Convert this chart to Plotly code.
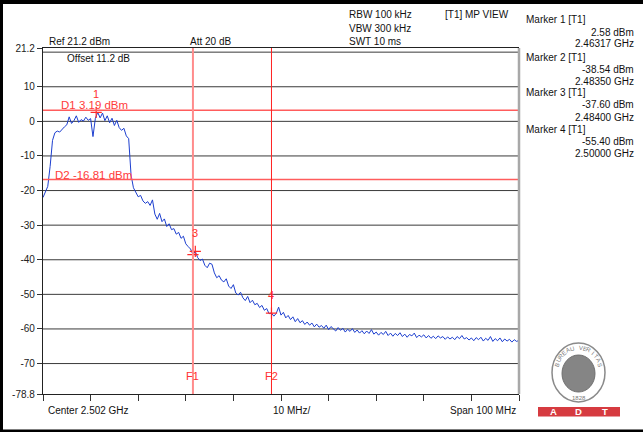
import math
import numpy as np
import plotly.graph_objects as go

# ---------------- data ----------------
center_ghz = 2.502
span_ghz = 0.100

trace_dbm = [
    -22.0, -20.5, -18.8, -13.0, -5.5, -3.3, -2.8, -3.1, -2.2, -1.6,
    -1.0, 1.3, -0.6, 0.2, 1.6, -0.3, 0.5, 0.1, 1.2, 0.3,
    0.8, -4.4, 0.9, 2.6, 1.0, 2.4, 0.2, 1.6, -0.4, 0.9,
    -1.2, 0.3, -1.8, -2.6, -2.0, -4.2, -5.0, -15.5, -19.2, -20.6,
    -21.8, -21.4, -23.0, -23.7, -23.2, -24.3, -22.7, -26.8, -28.3, -26.6,
    -29.0, -28.2, -30.4, -29.6, -31.3, -31.0, -32.6, -32.1, -33.8, -33.2,
    -35.4, -36.2, -36.9, -38.5, -37.6, -39.4, -40.2, -39.8, -41.6, -42.3,
    -41.0, -41.3, -43.8, -45.2, -44.6, -45.9, -46.4, -45.5, -47.6, -48.3,
    -47.2, -49.6, -50.2, -49.4, -51.0, -51.8, -50.6, -52.4, -51.7, -53.0,
    -52.6, -53.8, -53.2, -54.6, -54.1, -55.6, -55.4, -56.3, -55.5, -53.7,
    -56.0, -55.2, -56.8, -56.1, -57.3, -56.5, -57.9, -57.0, -58.2, -57.6,
    -58.7, -58.0, -58.9, -58.3, -59.4, -58.6, -59.5, -59.0, -59.8, -58.9,
    -60.2, -59.3, -59.9, -60.6, -59.6, -60.4, -59.8, -60.9, -60.1, -60.7,
    -59.9, -61.0, -60.3, -61.2, -60.5, -61.4, -60.6, -61.3, -60.2, -61.5,
    -60.9, -61.8, -61.0, -61.6, -60.7, -61.9, -61.2, -62.1, -61.3, -61.9,
    -61.1, -62.2, -61.5, -62.4, -61.6, -62.0, -61.2, -62.5, -61.8, -62.3,
    -61.7, -62.6, -61.9, -62.7, -62.1, -62.8, -62.0, -62.6, -62.2, -63.0,
    -62.3, -62.9, -62.4, -63.1, -62.2, -62.8, -61.9, -62.9, -62.5, -63.2,
    -62.6, -63.4, -62.5, -63.1, -62.4, -63.5, -62.7, -63.3, -62.2, -63.6,
    -62.8, -63.4, -62.6, -63.7, -62.9, -63.5, -63.0, -63.8, -63.1, -63.6,
    -63.3,
]
freq_ghz = np.linspace(center_ghz - span_ghz / 2, center_ghz + span_ghz / 2, len(trace_dbm))

marker_numbers = [1, 2, 3, 4]
marker_freq_ghz = [2.46317, 2.48350, 2.48400, 2.50000]
marker_level_dbm = [2.58, -38.54, -37.60, -55.40]
marker_plot_labels = ["1", "", "3", "4"]

display_line_names = ["D1", "D2"]
display_line_dbm = [3.19, -16.81]

freq_line_names = ["F1", "F2"]
freq_line_ghz = [2.4835, 2.5000]

y_range = [-78.8, 21.2]
y_tick_vals = [21.2, 10, 0, -10, -20, -30, -40, -50, -60, -70, -78.8]
y_tick_text = ["21.2", "10", "0", "-10", "-20", "-30", "-40", "-50", "-60", "-70", "-78.8"]
y_grid_vals = [20, 10, 0, -10, -20, -30, -40, -50, -60, -70]
x_tick_vals = [2.452, 2.462, 2.472, 2.482, 2.492, 2.502, 2.512, 2.522, 2.532, 2.542, 2.552]

setting_texts = ["RBW 100 kHz", "VBW 300 kHz", "SWT 10 ms"]

# ---------------- geometry ----------------
W, H = 643, 432
L, R, T, B = 43, 124, 48, 38
PW = W - L - R
PH = H - T - B
FONT = "Liberation Sans, Arial, sans-serif"


def px(x):
    return (x - L) / PW


def py(y):
    return (H - B - y) / PH


fig = go.Figure()

fig.add_trace(go.Scatter(
    x=freq_ghz, y=trace_dbm, mode="lines",
    line=dict(color="#1d3fcf", width=1), hoverinfo="skip", showlegend=False,
))

fig.add_trace(go.Scatter(
    x=marker_freq_ghz, y=marker_level_dbm, mode="markers",
    marker=dict(symbol="cross-thin", size=8, line=dict(color="#ff2a2a", width=1.2)),
    hoverinfo="skip", showlegend=False,
))

shapes = []
annotations = []

# grid lines
for g in y_grid_vals:
    shapes.append(dict(type="line", xref="paper", yref="y", x0=0, x1=1, y0=g, y1=g,
                       line=dict(color="#3a3a3a", width=1), layer="below"))

# display lines
for name, lvl in zip(display_line_names, display_line_dbm):
    shapes.append(dict(type="line", xref="paper", yref="y", x0=0, x1=1, y0=lvl, y1=lvl,
                       line=dict(color="#ff5c5c", width=1.5), layer="above"))
d_text_x = [59, 53]
for (name, lvl), tx in zip(zip(display_line_names, display_line_dbm), d_text_x):
    annotations.append(dict(xref="paper", yref="y", x=px(tx), y=lvl, yshift=5,
                            xanchor="left", yanchor="middle", showarrow=False,
                            text=f"{name} {lvl:.2f} dBm",
                            font=dict(family=FONT, size=11.5, color="#ff3b3b")))

# frequency lines
f_styles = [dict(color="#ff8c8c", width=2), dict(color="#ff2020", width=1)]
for (name, f), st in zip(zip(freq_line_names, freq_line_ghz), f_styles):
    shapes.append(dict(type="line", xref="x", yref="paper", x0=f, x1=f, y0=0, y1=1,
                       line=st, layer="above"))
    annotations.append(dict(xref="x", yref="paper", x=f, y=py(376), showarrow=False,
                            xanchor="center", yanchor="middle", text=name,
                            font=dict(family=FONT, size=11, color="#ff3030")))

# marker labels
for lab, f, lvl in zip(marker_plot_labels, marker_freq_ghz, marker_level_dbm):
    if lab:
        annotations.append(dict(xref="x", yref="y", x=f, y=lvl, yshift=18.5, showarrow=False,
                                xanchor="center", yanchor="middle", text=lab,
                                font=dict(family=FONT, size=11, color="#ff3030")))

# right border (gray)
shapes.append(dict(type="line", xref="paper", yref="paper", x0=1, x1=1, y0=0, y1=1,
                   line=dict(color="#a8a8a8", width=2.5)))

# black frame of the screenshot
shapes.append(dict(type="rect", xref="paper", yref="paper", x0=px(-5), x1=px(W + 5),
                   y0=py(4), y1=py(-5), fillcolor="black", line=dict(width=0)))
shapes.append(dict(type="rect", xref="paper", yref="paper", x0=px(-5), x1=px(3),
                   y0=py(H + 5), y1=py(-5), fillcolor="black", line=dict(width=0)))
shapes.append(dict(type="rect", xref="paper", yref="paper", x0=px(-5), x1=px(W + 5),
                   y0=py(H + 5), y1=py(429.5), fillcolor="black", line=dict(width=0)))


def ann(text, x, y, anchor="left", size=10, color="#111", bold=False):
    annotations.append(dict(xref="paper", yref="paper", x=px(x), y=py(y), text=text,
                            showarrow=False, xanchor=anchor, yanchor="middle",
                            font=dict(family=FONT, size=size, color=color,
                                      weight="bold" if bold else "normal")))


# header texts
ann("Ref 21.2 dBm", 46.5, 41.5)
ann("Att 20 dB", 187.5, 41.5)
ann("Offset 11.2 dB", 64.5, 59)
for i, s in enumerate(setting_texts):
    ann(s, 346.5, 15 + 13.2 * i)
ann("[T1] MP VIEW", 443, 15)

# marker panel
block_y = [20, 57, 93, 129]
for n, f, lvl, y0 in zip(marker_numbers, marker_freq_ghz, marker_level_dbm, block_y):
    ann(f"Marker {n} [T1]", 524, y0)
    ann(f"{lvl:.2f} dBm", 636, y0 + 12, anchor="right")
    ann(f"{f:.5f} GHz", 636, y0 + 24, anchor="right")

# bottom texts
ann("Center 2.502 GHz", 46, 411)
ann("10 MHz/", 271, 411)
ann("Span 100 MHz", 517.5, 411, anchor="right")

# logo (Bureau Veritas seal + ADT bar)
cx, cy = 578.5, 372.5
shapes.append(dict(type="circle", xref="paper", yref="paper", x0=px(552), x1=px(605),
                   y0=py(402), y1=py(343), line=dict(color="#8a8a8a", width=1.5),
                   fillcolor="white"))
shapes.append(dict(type="circle", xref="paper", yref="paper", x0=px(562), x1=px(595),
                   y0=py(392), y1=py(355), line=dict(color="#6e6e6e", width=1),
                   fillcolor="#858585"))
logo_word = "BUREAU VERITAS"
n_ch = len(logo_word)
for k, ch in enumerate(logo_word):
    a = math.radians(162 - k * (144 / (n_ch - 1)))
    lx = cx + 22.5 * math.cos(a)
    ly = cy - 25 * math.sin(a)
    ann(ch, lx, ly, anchor="center", size=6, color="#7a7a7a")
    annotations[-1]["textangle"] = -(math.degrees(a) - 90)
ann("1828", cx, 397.5, anchor="center", size=6, color="#7a7a7a")
shapes.append(dict(type="rect", xref="paper", yref="paper", x0=px(538), x1=px(620),
                   y0=py(416.5), y1=py(407), fillcolor="#d63b40", line=dict(width=0)))
for ch, lx in zip(["A", "D", "T"], [553.5, 578.5, 605]):
    ann(ch, lx, 411.8, anchor="center", size=9.5, color="white", bold=True)

fig.update_layout(
    width=W, height=H,
    margin=dict(l=L, r=R, t=T, b=B, pad=0),
    paper_bgcolor="white", plot_bgcolor="white",
    showlegend=False,
    shapes=shapes, annotations=annotations,
    xaxis=dict(range=[center_ghz - span_ghz / 2, center_ghz + span_ghz / 2],
               tickvals=x_tick_vals, showticklabels=False, ticks="outside", ticklen=6,
               tickcolor="#333", tickwidth=1.2, showgrid=False, zeroline=False,
               showline=True, linecolor="#222", linewidth=1.2, mirror=True,
               fixedrange=True),
    yaxis=dict(range=y_range, tickvals=y_tick_vals, ticktext=y_tick_text,
               ticks="outside", ticklen=5, tickcolor="#333", showgrid=False,
               zeroline=False, showline=True, linecolor="#222", linewidth=1.2,
               tickfont=dict(family=FONT, size=10, color="#222"), automargin=False,
               fixedrange=True),
)

fig.write_html(
    "out.html",
    config={"displayModeBar": False},
    post_script="document.body.style.margin='0';document.body.style.overflow='hidden';",
)
